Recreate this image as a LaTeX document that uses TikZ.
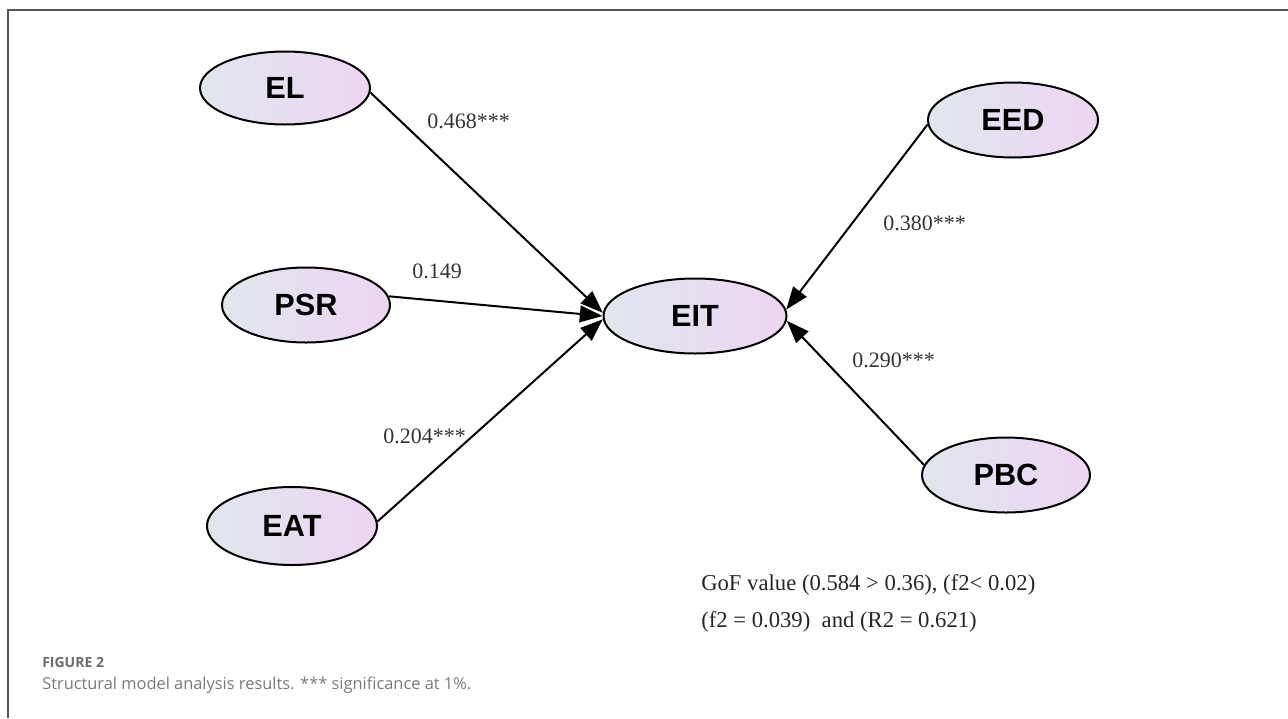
\documentclass[tikz,border=0pt]{standalone}
\usepackage{fontspec}
\setmainfont{Liberation Serif}
\newfontfamily\nodefont{Liberation Sans}
\newfontfamily\capfont{Open Sans}
\usetikzlibrary{arrows.meta,shapes.geometric}
\definecolor{leftc}{HTML}{E1E6EE}
\definecolor{rightc}{HTML}{EDD5F2}
\definecolor{labc}{HTML}{333333}
\definecolor{bordc}{HTML}{555555}
\definecolor{capc}{HTML}{7A7A7A}
\definecolor{figc}{HTML}{6A6A6A}
\begin{document}
\begin{tikzpicture}[x=0.75pt,y=-0.75pt,
  latent/.style={ellipse, draw=black, line width=1.5pt, left color=leftc, right color=rightc,
    font=\nodefont\bfseries\fontsize{23}{25}\selectfont, inner sep=0pt},
  pathline/.style={line width=1.5pt, -{Triangle[length=17pt,width=12.5pt]}},
  coef/.style={anchor=base west, inner sep=0pt, text=labc, font=\fontsize{16.5}{18}\selectfont},
  note/.style={anchor=base west, inner sep=0pt, text=black!85, font=\fontsize{17}{19}\selectfont},
  captitle/.style={anchor=base west, inner sep=0pt, text=figc, font=\capfont\bfseries\fontsize{10.5}{12}\selectfont},
  captext/.style={anchor=base west, inner sep=0pt, text=capc, font=\capfont\fontsize{12.3}{14}\selectfont}]
\useasboundingbox (0,0) rectangle (1288,718);
\draw[bordc, line width=1.5pt] (8,718) -- (8,10) -- (1288,10);

\node[latent, minimum width=127.5pt, minimum height=54.75pt] (EL)  at (285,88)  {EL};
\node[latent, minimum width=126pt,   minimum height=56.25pt] (PSR) at (306,305) {PSR};
\node[latent, minimum width=127.5pt, minimum height=58.5pt]  (EAT) at (292,526) {EAT};
\node[latent, minimum width=137.25pt,minimum height=56.25pt] (EIT) at (695,316) {EIT};
\node[latent, minimum width=127.5pt, minimum height=56.25pt] (EED) at (1013,120) {EED};
\node[latent, minimum width=126pt,   minimum height=56.25pt] (PBC) at (1006,475) {PBC};

\draw[pathline] (EL.-3)   -- (EIT.178);
\draw[pathline] (PSR.6)   -- (EIT.180);
\draw[pathline] (EAT.3)   -- (EIT.182);
\draw[pathline] (EED.183) -- (EIT.4);
\draw[pathline] (PBC.173) -- (EIT.-3);

\node[coef] (c1) at (427,128) {0.468***};
\node[coef] (c2) at (412,278) {0.149};
\node[coef] (c3) at (383,443) {0.204***};
\node[coef] (c4) at (883,230) {0.380***};
\node[coef] (c5) at (852,367) {0.290***};

\node[note] (g1) at (701,590) {GoF value (0.584 > 0.36), (f2< 0.02)};
\node[note] (g2) at (701,627) {(f2 = 0.039)\ \ and (R2 = 0.621)};

\node[captitle] (f1) at (42,667) {FIGURE 2};
\node[captext] (f2) at (42,689) {Structural model analysis results. *** significance at 1\%.};
\end{tikzpicture}
\end{document}
